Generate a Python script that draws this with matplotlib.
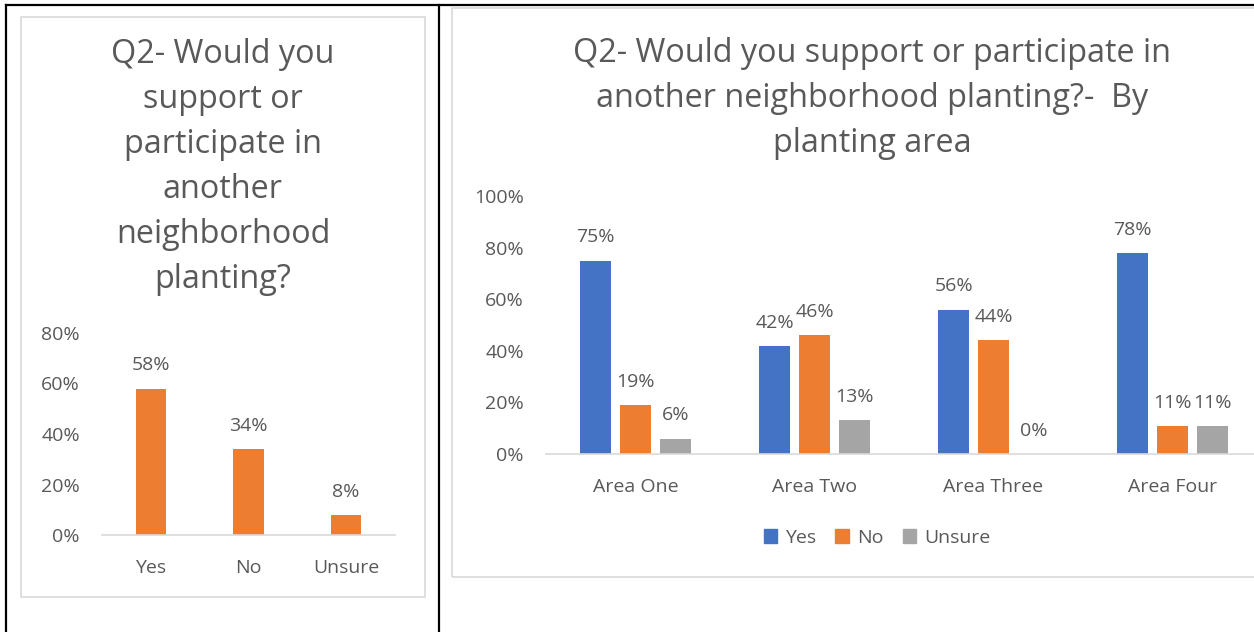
import numpy as np
import matplotlib.pyplot as plt
from matplotlib.patches import Rectangle, Patch
from matplotlib.lines import Line2D
from matplotlib.ticker import PercentFormatter

# ---------------------------------------------
# DATA
# ---------------------------------------------
overall_labels = ["Yes", "No", "Unsure"]
overall_values = [58, 34, 8]

areas = ["Area One", "Area Two", "Area Three", "Area Four"]
yes_vals = [75, 42, 56, 78]
no_vals = [19, 46, 44, 11]
unsure_vals = [6, 13, 0, 11]
series_names = ["Yes", "No", "Unsure"]

BLUE = "#4472C4"
ORANGE = "#ED7D31"
GRAY = "#A5A5A5"
TXT = "#595959"
LINE = "#D9D9D9"
FS = 14          # ticks, labels, legend
TITLE_FS = 23.3

plt.rcParams["font.family"] = ["Open Sans", "DejaVu Sans"]

W, H = 1254, 632
fig = plt.figure(figsize=(W / 100, H / 100), dpi=100)


def fx(px):
    return px / W


def fy(py):
    # pixel rows counted from top
    return 1 - py / H


# ---------------------------------------------
# Table borders and chart frames
# ---------------------------------------------
for xs, ys in [([6, 1254], [5, 5]), ([6, 6], [5, 632]), ([439, 439], [5, 632])]:
    fig.add_artist(Line2D([fx(x) for x in xs], [fy(y) for y in ys],
                          color="black", lw=1.6, transform=fig.transFigure))

fig.add_artist(Rectangle((fx(21), fy(597)), fx(425 - 21), (597 - 17) / H,
                         transform=fig.transFigure, fill=False,
                         edgecolor=LINE, lw=1.2))
fig.add_artist(Rectangle((fx(452), fy(577)), fx(1290 - 452), (577 - 8) / H,
                         transform=fig.transFigure, fill=False,
                         edgecolor=LINE, lw=1.2))


def style_axes(ax, ymax):
    ax.set_ylim(0, ymax)
    ax.yaxis.set_major_formatter(PercentFormatter(decimals=0))
    for s in ["top", "right", "left"]:
        ax.spines[s].set_visible(False)
    ax.spines["bottom"].set_color(LINE)
    ax.spines["bottom"].set_linewidth(1.2)
    ax.tick_params(axis="both", length=0, colors=TXT, labelsize=FS)
    ax.tick_params(axis="y", pad=16)
    ax.tick_params(axis="x", pad=17.5)
    ax.patch.set_alpha(0)


def label_bars(ax, bars, vals):
    for b, v in zip(bars, vals):
        ax.annotate(f"{v}%", (b.get_x() + b.get_width() / 2, v),
                    xytext=(0, 13), textcoords="offset points",
                    ha="center", va="baseline", color=TXT, fontsize=FS)


# ---------------------------------------------
# Left chart: overall
# ---------------------------------------------
ax1 = fig.add_axes([fx(102), fy(535), fx(395 - 102), (535 - 333) / H])
x1 = np.arange(len(overall_labels))
bars = ax1.bar(x1, overall_values, width=0.31, color=ORANGE)
ax1.set_xlim(-0.5, len(overall_labels) - 0.5)
ax1.set_xticks(x1, overall_labels)
style_axes(ax1, 80)
ax1.set_yticks(np.arange(0, 81, 20))
label_bars(ax1, bars, overall_values)

fig.text(fx(223), fy(167),
         "Q2- Would you\nsupport or\nparticipate in\nanother\nneighborhood\nplanting?",
         ha="center", va="center", fontsize=TITLE_FS, color=TXT, linespacing=1.48)

# ---------------------------------------------
# Right chart: by planting area
# ---------------------------------------------
ax2 = fig.add_axes([fx(546), fy(454), fx(1262 - 546), (454 - 196) / H])
x2 = np.arange(len(areas))
bw = 0.173
step = 0.223
colors = [BLUE, ORANGE, GRAY]
for i, (vals, c) in enumerate(zip([yes_vals, no_vals, unsure_vals], colors)):
    bs = ax2.bar(x2 + (i - 1) * step, vals, width=bw, color=c)
    label_bars(ax2, bs, vals)
ax2.set_xlim(-0.5, len(areas) - 0.5)
ax2.set_xticks(x2, areas)
style_axes(ax2, 100)
ax2.set_yticks(np.arange(0, 101, 20))

fig.text(fx(872), fy(98.5),
         "Q2- Would you support or participate in\nanother neighborhood planting?-  By\nplanting area",
         ha="center", va="center", fontsize=TITLE_FS, color=TXT, linespacing=1.48)

handles = [Patch(color=c) for c in colors]
fig.legend(handles, series_names, loc="center", bbox_to_anchor=(fx(877), fy(538)),
           ncol=3, frameon=False, fontsize=FS, labelcolor=TXT,
           handlelength=0.7, handleheight=0.7, handletextpad=0.4,
           columnspacing=1.0)

fig.savefig("out.png", dpi=100)
